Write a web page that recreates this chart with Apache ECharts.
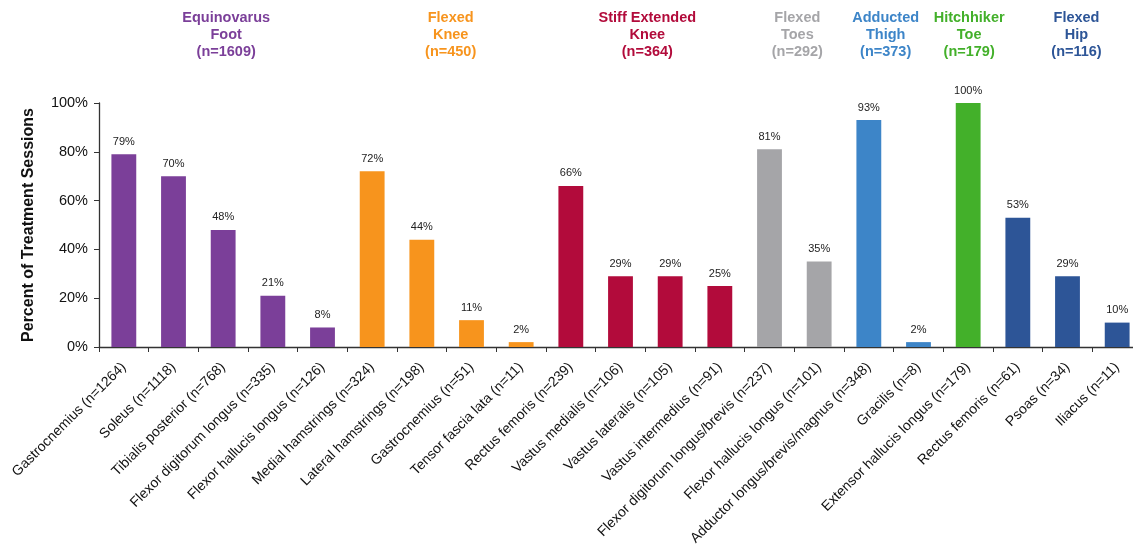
<!DOCTYPE html>
<html><head><meta charset="utf-8">
<script src="https://cdn.jsdelivr.net/npm/echarts@6/dist/echarts.min.js"></script>
<style>html,body{margin:0;padding:0;background:#fff;overflow:hidden}#c{width:1133px;height:551px}</style>
</head><body><div id="c"></div>
<script>
const categories = ["Gastrocnemius (n=1264)","Soleus (n=1118)","Tibialis posterior (n=768)","Flexor digitorum longus (n=335)","Flexor hallucis longus (n=126)","Medial hamstrings (n=324)","Lateral hamstrings (n=198)","Gastrocnemius (n=51)","Tensor fascia lata (n=11)","Rectus femoris (n=239)","Vastus medialis (n=106)","Vastus lateralis (n=105)","Vastus intermedius (n=91)","Flexor digitorum longus/brevis (n=237)","Flexor hallucis longus (n=101)","Adductor longus/brevis/magnus (n=348)","Gracilis (n=8)","Extensor hallucis longus (n=179)","Rectus femoris (n=61)","Psoas (n=34)","Iliacus (n=11)"];
const values = [79,70,48,21,8,72,44,11,2,66,29,29,25,81,35,93,2,100,53,29,10];
const barGroup = [0,0,0,0,0,1,1,1,1,2,2,2,2,3,3,4,4,5,6,6,6];
const groupNames = ["Equinovarus\nFoot\n(n=1609)","Flexed\nKnee\n(n=450)","Stiff Extended\nKnee\n(n=364)","Flexed\nToes\n(n=292)","Adducted\nThigh\n(n=373)","Hitchhiker\nToe\n(n=179)","Flexed\nHip\n(n=116)"];
const groupColors = ["#7B3F99","#F7941D","#B20B3B","#A5A5A8","#3D85C8","#43B02A","#2D5597"];
const yTicks = [0,20,40,60,80,100];

const labelShift = [3,4,2,3,-8,1,9];
const FONT = "'Liberation Sans', Arial, sans-serif";
const chart = echarts.init(document.getElementById('c'));
const option = {
  animation:false,
  grid:{left:99, width:1043, top:103, bottom:204, containLabel:false, outerBoundsMode:'none'},
  xAxis:{type:'category', data:categories,
    axisLine:{lineStyle:{color:'#333',width:1.3}},
    axisTick:{show:true, alignWithLabel:false, length:5, lineStyle:{color:'#333'}},
    axisLabel:{interval:0, rotate:45, margin:18, fontSize:14, color:'#111', fontFamily:FONT}},
  yAxis:{type:'value', min:yTicks[0], max:yTicks[yTicks.length-1], interval:20,
    name:'Percent of Treatment Sessions', nameLocation:'middle', nameGap:62,
    nameTextStyle:{fontSize:16, fontWeight:'bold', color:'#111', fontFamily:FONT},
    axisLine:{show:true, lineStyle:{color:'#333',width:1.3}},
    axisTick:{show:true, length:5, lineStyle:{color:'#333'}},
    splitLine:{show:false},
    axisLabel:{fontSize:14.5, color:'#111', fontFamily:FONT, margin:11, formatter:v=>v+'%'}},
  series:[{type:'bar', barWidth:'50%',
    data:values.map((v,i)=>({value:v, itemStyle:{color:groupColors[barGroup[i]]}})),
    label:{show:true, position:'top', distance:7, fontSize:11, color:'#222', fontFamily:FONT, formatter:p=>p.value+'%'}}]
};
chart.setOption(option);
const graphics = groupNames.map((name,g)=>{
  const idx = barGroup.map((b,i)=>b===g?i:-1).filter(i=>i>=0);
  const x0 = chart.convertToPixel({xAxisIndex:0}, idx[0]);
  const x1 = chart.convertToPixel({xAxisIndex:0}, idx[idx.length-1]);
  return {type:'text', x:(x0+x1)/2 + labelShift[g], y:9.5, style:{text:name, fill:groupColors[g], font:'bold 14.5px '+FONT, textAlign:'center', textVerticalAlign:'top', lineHeight:17}};
});
chart.setOption({graphic:graphics});
</script></body></html>
